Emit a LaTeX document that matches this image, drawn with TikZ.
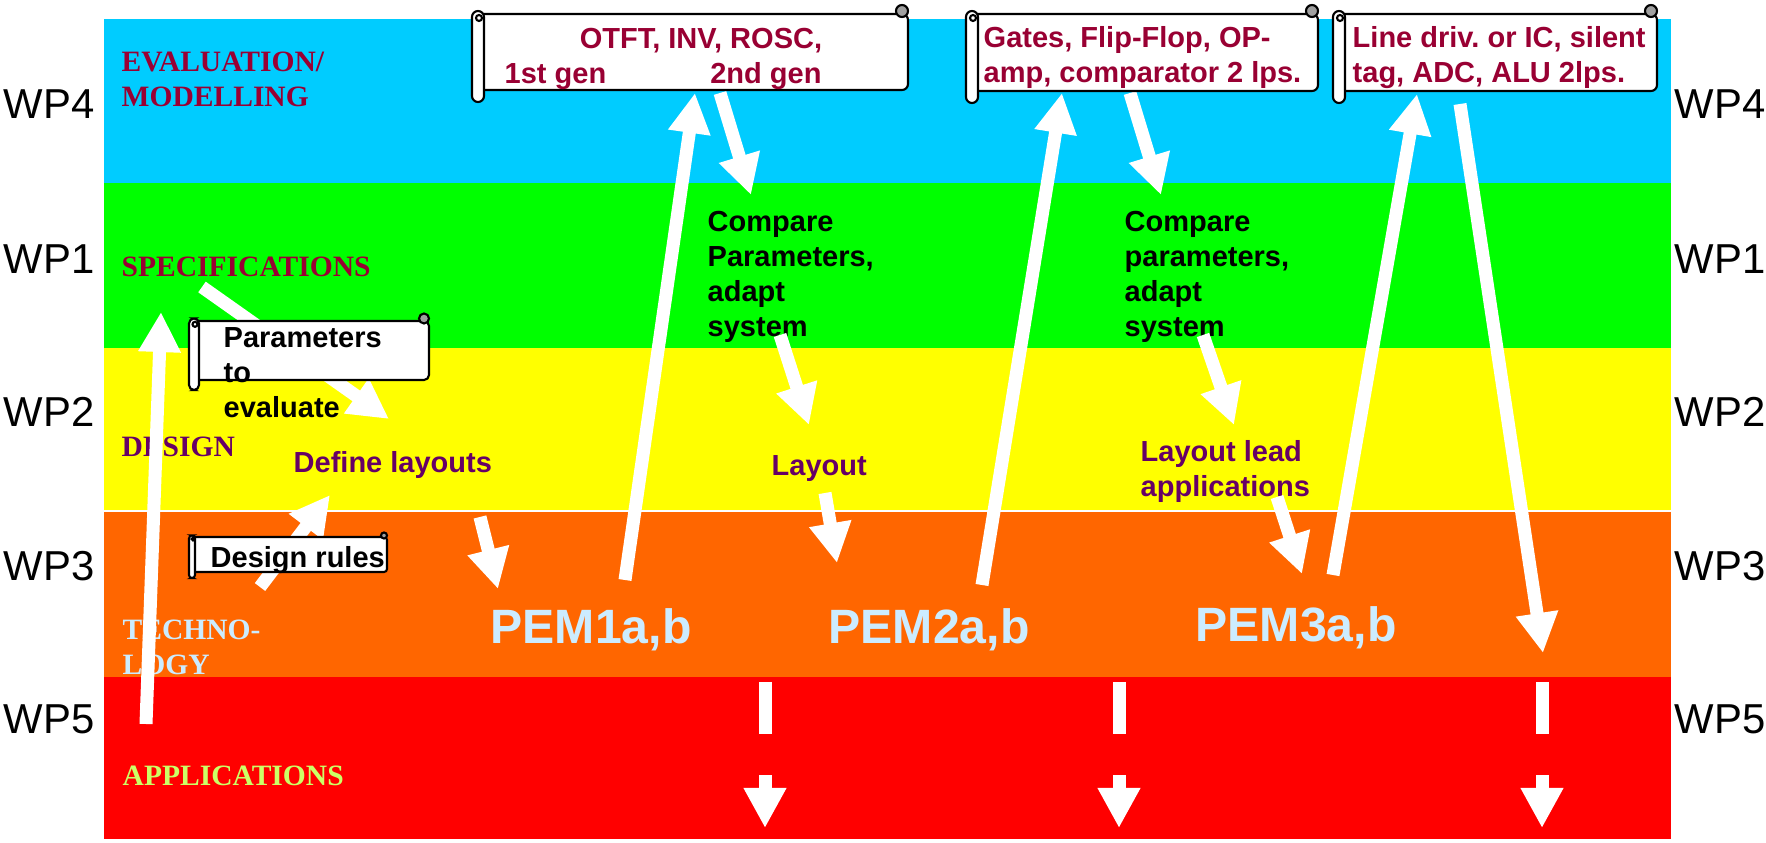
\documentclass[tikz,border=0pt]{standalone}
\usepackage{fontspec}
\setmainfont{Liberation Sans}
\newfontfamily\timesfont{Liberation Serif}
\frenchspacing
\usetikzlibrary{positioning,arrows.meta}
\definecolor{bandBlue}{RGB}{0,204,255}
\definecolor{bandGreen}{RGB}{0,255,0}
\definecolor{bandYellow}{RGB}{255,255,0}
\definecolor{bandOrange}{RGB}{255,102,0}
\definecolor{bandRed}{RGB}{255,0,0}
\definecolor{titleRed}{RGB}{153,0,51}
\definecolor{titlePurple}{RGB}{102,0,102}
\definecolor{pemBlue}{RGB}{204,236,255}
\definecolor{appGreen}{RGB}{204,255,102}
\definecolor{curlGray}{RGB}{160,160,160}
\tikzset{
  wplabel/.style={anchor=base west,inner sep=0,font=\fontsize{11.9pt}{14pt}\selectfont},
  bandtitle/.style={anchor=base west,inner sep=0,align=left,font=\timesfont\bfseries\fontsize{8.4pt}{9.96pt}\selectfont},
  bodytext/.style={anchor=base west,inner sep=0,align=left,font=\bfseries\fontsize{8.25pt}{9.96pt}\selectfont},
  pemtext/.style={anchor=base west,inner sep=0,text=pemBlue,font=\bfseries\fontsize{13.7pt}{16pt}\selectfont},
  fatarrow/.style={white,line width=0.13cm,-{Triangle[width=0.4cm,length=0.4cm]}},
  scroll/.style={draw=black,fill=white,line width=0.6pt},
}
% scroll banner: x1, y1, x2, y2, roll width, corner radius
\newcommand{\scrollbox}[6]{%
  \filldraw[scroll,rounded corners=#6] ({#1+#5/2},#2) rectangle (#3,#4);
  \filldraw[scroll,fill=curlGray] ({#3-#5/2},{#2-#5/4}) circle[radius=#5/2];
  \filldraw[scroll,rounded corners=#6] (#1,{#2-#5/4}) rectangle ({#1+#5},{#4+#5});
  \draw[scroll] ({#1+#5/2+1},{#2+#5/3}) circle[radius=#5/4];
}
\begin{document}
\begin{tikzpicture}[x=0.01cm,y=-0.01cm]
  \useasboundingbox (0,0) rectangle (1766,843);
  % bands
  \foreach \top/\bot/\col in {19/183/bandBlue, 183/348/bandGreen, 348/511/bandYellow, 511/677/bandOrange, 677/839/bandRed}
    \fill[\col] (104,\top) rectangle (1671,\bot);
  \draw[white,line width=0.4pt] (104,511) -- (1671,511);
  % work packages
  \foreach \y/\lbl in {119/WP4, 274/WP1, 427/WP2, 581/WP3, 734/WP5} {
    \node[wplabel] (wpl-\lbl) at (3,\y) {\lbl};
    \node[wplabel] (wpr-\lbl) at (1674,\y) {\lbl};
  }
  % band titles (multi-line nodes sit on their last line)
  \node[bandtitle,text=titleRed] (eval) at (121,107) {EVALUATION/\\MODELLING};
  \node[bandtitle,text=titleRed] (spec) at (121,277) {SPECIFICATIONS};
  \node[bandtitle,text=titlePurple] (design) at (121,457) {DESIGN};
  \node[bandtitle,text=pemBlue] (techno) at (122,675) {TECHNO-\\LOGY};
  \node[bandtitle,text=appGreen] (appl) at (122,785) {APPLICATIONS};
  % steps
  \node[bodytext] (cmp1) at (707,337) {Compare\\Parameters,\\adapt\\system};
  \node[bodytext] (cmp2) at (1124,337) {Compare\\parameters,\\adapt\\system};
  \node[bodytext,text=titlePurple] (deflay) at (293,473) {Define layouts};
  \node[bodytext,text=titlePurple] (lay) at (771,476) {Layout};
  \node[bodytext,text=titlePurple] (laylead) at (1140,497) {Layout lead\\applications};
  \node[pemtext] (pem1) at (490,643) {PEM1a,b};
  \node[pemtext] (pem2) at (828,643) {PEM2a,b};
  \node[pemtext] (pem3) at (1195,642) {PEM3a,b};
  % arrows
  \foreach \n/\xa/\ya/\xb/\yb in {1/146/724/161/312, 2/202/287/389/419, 3/260/587/330/495,
      4/480/517/498/589, 5/625/580/695/93, 6/720/93/751/195, 7/780/335/809/425,
      8/825/493/837/563, 9/982/585/1062/93, 10/1130/93/1161/195, 11/1203/335/1234/425,
      12/1277/497/1302/574, 13/1333/575/1417/94, 14/1460/104/1543/653} {
    \coordinate (t\n) at (\xa,\ya);
    \coordinate (h\n) at (\xb,\yb);
    \draw[fatarrow] (t\n) -- (h\n);
  }
  % outputs to applications
  \foreach \n/\x in {1/765, 2/1119, 3/1542} {
    \coordinate (bt\n) at (\x,682);
    \coordinate (bb\n) at (\x,734);
    \coordinate (ot\n) at (\x,775);
    \coordinate (oh\n) at (\x,828);
    \draw[white,line width=0.13cm] (bt\n) -- (bb\n);
    \draw[fatarrow] (ot\n) -- (oh\n);
  }
  % scrolls
  \scrollbox{472}{14}{908}{90}{12}{0.6mm}
  \scrollbox{966}{14}{1318}{91}{12}{0.6mm}
  \scrollbox{1333}{14}{1657}{91}{12}{0.6mm}
  \scrollbox{189}{321}{429}{380}{10}{0.5mm}
  \scrollbox{189}{537}{387}{572}{6}{0.3mm}
  \node[bodytext,text=titleRed] (gen) at (504,84) {\hspace*{0.75cm}OTFT, INV, ROSC,\\1st gen\hspace{1.04cm}2nd gen};
  \node[bodytext,text=titleRed] (gates) at (983,83) {Gates, Flip-Flop, OP-\\amp, comparator 2 lps.};
  \node[bodytext,text=titleRed] (line) at (1352,83) {Line driv. or IC, silent\\tag, ADC, ALU 2lps.};
  \node[bodytext] (param) at (223,418) {Parameters\\to\\evaluate};
  \node[bodytext] (rules) at (210,568) {Design rules};
\end{tikzpicture}
\end{document}
